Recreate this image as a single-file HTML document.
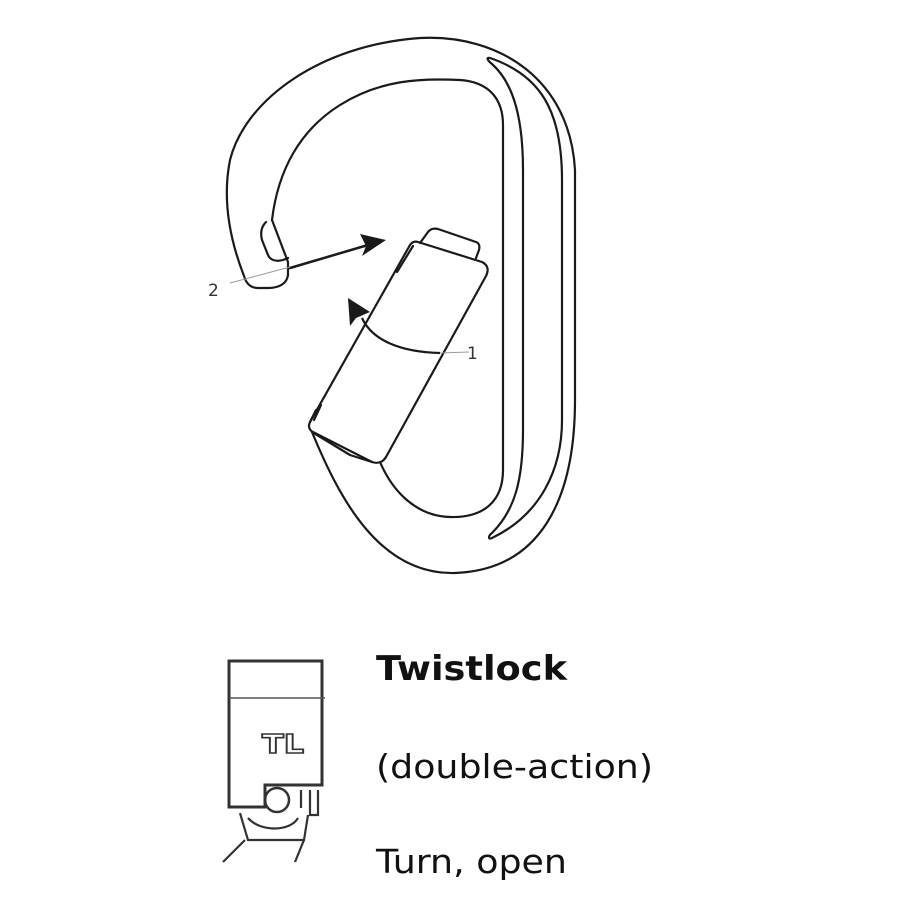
<!DOCTYPE html>
<html><head><meta charset="utf-8"><style>
html,body{margin:0;padding:0;background:#fff;}
svg{display:block}
</style></head><body>
<svg width="900" height="900" viewBox="0 0 900 900" xmlns="http://www.w3.org/2000/svg">
<g fill="none" stroke="#1a1a1a" stroke-width="2.2" stroke-linejoin="round" stroke-linecap="round">
<path d="M288,275 C287,283 280,288 268,288 L258,288 C250,288 246,283 244,276 C230,240 222,200 230,160 C245,100 320,45 420,38 C500,34 570,80 575,170 L575,400 C575,500 540,570 455,573 C380,575 340,500 312,432"/>
<path d="M272,220 L288,262 L288,275"/>
<path d="M266,222 C262,226 260,232 262,240 L268,255 C270,260 276,262 283,260 L288,258"/>
<path d="M272,220 C278,170 300,130 340,105 C380,80 420,78 460,80 C490,82 503,100 503,125 L503,470 C503,500 485,518 450,517 C415,516 392,490 380,462"/>
<path d="M490,58 C540,75 562,110 562,180 L562,420 C562,470 540,515 492,538 C488,540 488,536 492,533 C515,510 523,480 523,430 L523,170 C523,110 510,80 492,64 C487,60 486,57 490,58 Z"/>
<path d="M418,242 L482,262 C488,265 489,270 486,276 L386,457 C383,462 378,464 372,462 L313,432 C309,430 308,426 310,422 L410,245 C412,242 415,241 418,242 Z"/>
<path d="M420,243 L428,232 C430,229 434,228 438,229 L476,242 C479,243 480,246 479,250 L476,258"/>
<path d="M413,246 L397,272"/>
<path d="M316,410 L310,422 M321,405 L314,420"/>
<path d="M312,432 L350,455 L372,462"/>
<path d="M290,268 L368,245" stroke-width="2.5"/>
</g>
<path d="M230,283 L290,267" stroke="#999" stroke-width="1" fill="none"/>
<polygon points="386,240 360,234 366,246 362,256" fill="#1a1a1a"/>
<path d="M469,352 L440,353" stroke="#999" stroke-width="1" fill="none"/>
<path d="M440,353 C400,352 372,340 362,318" stroke="#1a1a1a" stroke-width="2.2" fill="none"/>
<polygon points="348,298 370,312 356,318 350,326" fill="#1a1a1a"/>
<text x="208" y="296" font-family="DejaVu Sans, sans-serif" font-size="17" fill="#333">2</text>
<text x="467" y="359" font-family="DejaVu Sans, sans-serif" font-size="17" fill="#333">1</text>
<g fill="none" stroke="#333" stroke-width="3">
<path d="M229,661 L322,661 L322,785 L265,785 L265,807 L229,807 Z"/>
</g>
<line x1="229" y1="698" x2="325" y2="698" stroke="#555" stroke-width="1.5"/>
<circle cx="277" cy="800" r="12" fill="none" stroke="#333" stroke-width="2.5"/>
<g fill="none" stroke="#333" stroke-width="2.2">
<path d="M301,790 L301,808 M310,790 L310,815 L318,815 L318,790"/>
<path d="M240,813 L248,840 L304,840 L308,815"/>
<path d="M248,818 C260,832 290,832 298,818"/>
<path d="M245,840 L223,862 M304,840 L295,862"/>
</g>
<text x="262" y="753" font-family="DejaVu Sans, sans-serif" font-size="26" font-weight="bold" fill="#fff" stroke="#333" stroke-width="1.6" textLength="42" lengthAdjust="spacingAndGlyphs">TL</text>
<text x="376" y="680" font-family="DejaVu Sans, sans-serif" font-size="34" font-weight="bold" fill="#111" textLength="191" lengthAdjust="spacingAndGlyphs">Twistlock</text>
<text x="376" y="778" font-family="DejaVu Sans, sans-serif" font-size="33" fill="#111" textLength="277" lengthAdjust="spacingAndGlyphs">(double-action)</text>
<text x="376" y="873" font-family="DejaVu Sans, sans-serif" font-size="33" fill="#111" textLength="191" lengthAdjust="spacingAndGlyphs">Turn, open</text>
</svg>
</body></html>
